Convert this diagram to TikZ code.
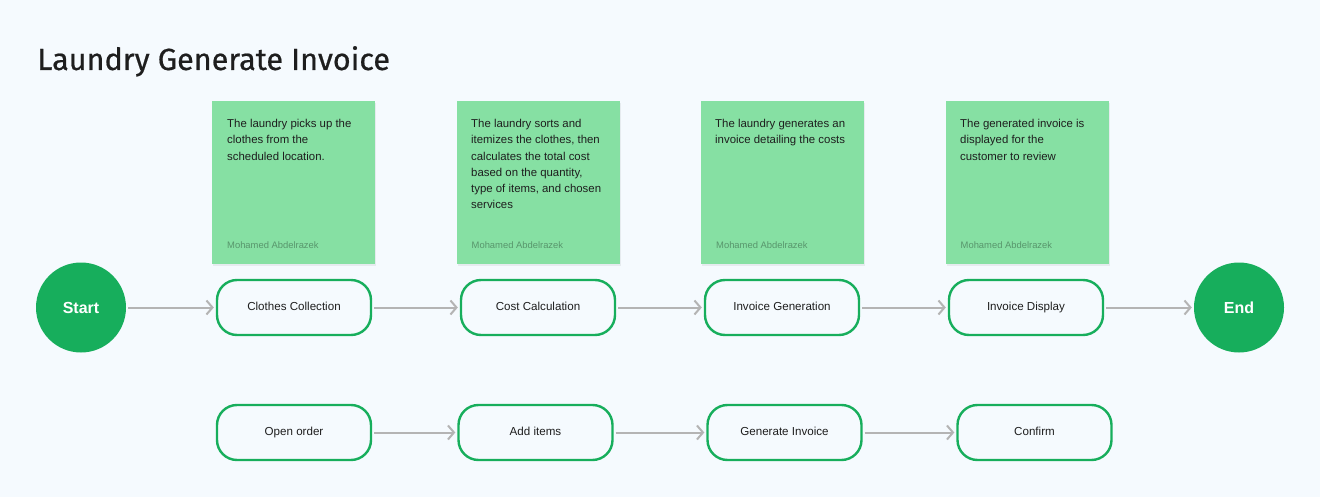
\documentclass[tikz,border=0pt]{standalone}
\usepackage{fontspec}
\setmainfont{Liberation Sans}
\newfontfamily\titlefont[FakeBold=0.6]{Fira Sans}
\usepackage{xcolor}
\usetikzlibrary{arrows.meta,positioning}
\definecolor{bggray}{RGB}{245,250,254}
\definecolor{notegreen}{RGB}{134,224,163}
\definecolor{flowgreen}{RGB}{23,174,92}
\definecolor{linegray}{RGB}{180,180,180}
\definecolor{textdark}{RGB}{30,30,30}
\definecolor{authorgray}{RGB}{88,150,108}

\tikzset{
  note/.style={fill=notegreen, minimum width=163pt, minimum height=163pt, anchor=north west, inner sep=0pt},
  notetext/.style={anchor=north west, align=left, inner sep=0pt, text=textdark, font=\fontsize{11.4}{16.3}\selectfont},
  author/.style={anchor=west, inner sep=0pt, text=authorgray, font=\fontsize{9.4}{10}\selectfont},
  stepbox/.style={draw=flowgreen, line width=2.4pt, fill=bggray, rounded corners=20pt,
    minimum width=154pt, minimum height=55pt, text height=8.5pt, text depth=2.5pt,
    text=textdark, font=\fontsize{11.6}{13}\selectfont},
  terminal/.style={circle, fill=flowgreen, minimum size=90pt, inner sep=0pt, text=white,
    text height=11.5pt, text depth=0pt, font=\fontsize{16}{18}\selectfont\bfseries},
  flow/.style={draw=linegray, line width=2pt, -{Straight Barb[length=6pt,width=14pt,line width=2pt]},
    shorten <=2pt, shorten >=2pt}
}

\begin{document}
\begin{tikzpicture}[x=1pt, y=-1pt]
    \useasboundingbox[fill=bggray] (0,0) rectangle (1320,497);
    % Title
    \node[anchor=base west, inner sep=0pt, text=textdark, font=\titlefont\fontsize{30.6}{34}\selectfont]
      (title) at (37,70) {Laundry Generate Invoice};

    % Sticky notes
    \foreach \name/\x in {noteA/212, noteB/456.5, noteC/701, noteD/945.5} {
      \fill[black, opacity=0.06] (\x+1,103) rectangle (\x+164,266);
      \node[note] (\name) at (\x,101) {};
      \node[author] at (\x+15,245) {Mohamed Abdelrazek};
    }
    \node[notetext] (txtA) at (227,119) {The laundry picks up the\\clothes from the\\scheduled location.};
    \node[notetext] (txtB) at (471,119) {The laundry sorts and\\itemizes the clothes, then\\calculates the total cost\\based on the quantity,\\type of items, and chosen\\services};
    \node[notetext] (txtC) at (715,119) {The laundry generates an\\invoice detailing the costs};
    \node[notetext] (txtD) at (960,119) {The generated invoice is\\displayed for the\\customer to review};

    % Main flow
    \node[terminal] (start) at (81,307.5) {Start};
    \node[stepbox] (collect) at (294,307.5) {Clothes Collection};
    \node[stepbox] (cost) at (538,307.5) {Cost Calculation};
    \node[stepbox] (gen) at (782,307.5) {Invoice Generation};
    \node[stepbox] (disp) at (1026,307.5) {Invoice Display};
    \node[terminal] (end) at (1239,307.5) {End};
    \draw[flow] (start) -- (collect);
    \draw[flow] (collect) -- (cost);
    \draw[flow] (cost) -- (gen);
    \draw[flow] (gen) -- (disp);
    \draw[flow] (disp) -- (end);

    % System steps
    \node[stepbox] (open) at (294,432.5) {Open order};
    \node[stepbox] (add) at (535.5,432.5) {Add items};
    \node[stepbox] (geninv) at (784.5,432.5) {Generate Invoice};
    \node[stepbox] (confirm) at (1034.5,432.5) {Confirm};
    \draw[flow] (open) -- (add);
    \draw[flow] (add) -- (geninv);
    \draw[flow] (geninv) -- (confirm);
\end{tikzpicture}
\end{document}
